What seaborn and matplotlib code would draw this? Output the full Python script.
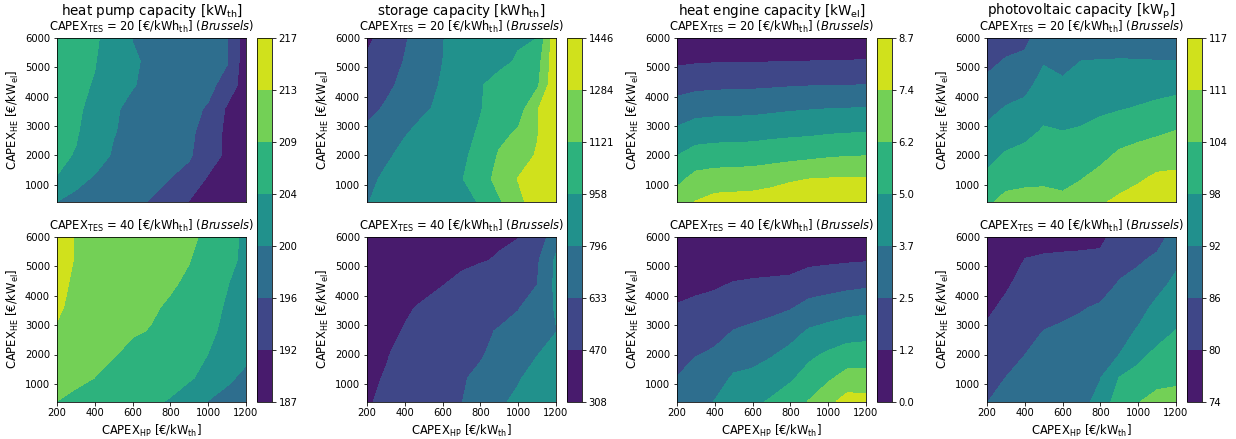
import numpy as np
import matplotlib
matplotlib.use("Agg")
import matplotlib.pyplot as plt
import seaborn as sns

# ---------------- data ----------------
capex_hp = [200, 300, 400, 500, 600, 700, 800, 900, 1000, 1100, 1200]
capex_he = [6000, 5200, 4400, 3600, 2800, 2000, 1200, 400]

hp_tes20 = [
    [206.5, 205.8, 204.9, 203.0, 200.1, 199.5, 199.0, 198.5, 198.0, 196.2, 189.0],
    [206.3, 205.5, 204.6, 202.5, 200.4, 199.8, 199.2, 198.6, 198.0, 196.1, 189.0],
    [206.0, 205.2, 204.2, 202.0, 200.3, 199.5, 198.8, 198.0, 196.8, 194.5, 189.0],
    [205.8, 205.0, 203.5, 200.5, 199.5, 198.8, 198.0, 196.8, 195.5, 191.0, 188.5],
    [205.5, 204.8, 202.5, 200.3, 199.3, 198.5, 197.6, 196.5, 194.5, 190.5, 188.3],
    [205.2, 204.2, 201.5, 199.8, 199.0, 198.2, 197.2, 196.2, 194.0, 190.5, 188.0],
    [204.3, 201.0, 199.8, 199.0, 198.2, 197.0, 195.8, 194.8, 191.0, 189.5, 187.8],
    [200.0, 199.2, 198.5, 197.8, 196.8, 195.5, 193.8, 191.2, 189.0, 188.0, 187.4],
]
hp_tes40 = [
    [216.5, 212.5, 212.0, 211.5, 211.0, 210.5, 210.0, 209.2, 208.2, 206.0, 203.5],
    [216.0, 212.5, 212.0, 211.4, 210.8, 210.2, 209.6, 208.8, 207.5, 205.5, 203.5],
    [215.2, 211.6, 211.2, 210.8, 210.3, 209.7, 209.0, 208.3, 206.8, 204.6, 202.5],
    [214.0, 211.2, 210.6, 210.0, 209.5, 209.0, 208.4, 207.4, 205.8, 204.0, 202.0],
    [212.3, 210.8, 210.0, 209.4, 209.0, 208.6, 207.6, 206.5, 205.0, 203.8, 201.8],
    [211.5, 210.3, 209.5, 208.9, 208.0, 207.2, 206.4, 205.5, 204.4, 203.0, 201.2],
    [210.5, 209.5, 208.7, 207.8, 207.0, 206.3, 205.5, 204.8, 203.4, 201.0, 199.0],
    [208.7, 207.8, 207.0, 206.2, 205.5, 204.9, 204.2, 202.5, 200.0, 198.5, 197.5],
]
st_tes20 = [
    [430, 540, 620, 700, 790, 860, 900, 925, 945, 957, 1420],
    [500, 570, 640, 720, 795, 850, 895, 930, 970, 1050, 1400],
    [540, 600, 670, 745, 810, 880, 950, 1000, 1040, 1090, 1420],
    [590, 650, 710, 780, 820, 880, 950, 1030, 1040, 1270, 1440],
    [660, 730, 785, 830, 870, 910, 975, 1070, 1140, 1270, 1440],
    [700, 775, 830, 870, 910, 940, 990, 1140, 1200, 1300, 1440],
    [760, 820, 860, 900, 930, 950, 1040, 1180, 1290, 1380, 1446],
    [790, 840, 870, 900, 930, 950, 960, 1100, 1230, 1380, 1446],
]
st_tes40 = [
    [308, 340, 360, 380, 400, 420, 440, 455, 465, 520, 740],
    [315, 335, 360, 390, 420, 445, 462, 480, 540, 610, 820],
    [330, 360, 390, 425, 465, 500, 530, 560, 590, 630, 830],
    [360, 400, 450, 490, 520, 550, 575, 600, 625, 700, 810],
    [390, 430, 480, 520, 560, 590, 615, 640, 680, 730, 790],
    [420, 460, 510, 550, 580, 605, 625, 660, 720, 790, 870],
    [440, 480, 530, 570, 600, 625, 650, 720, 780, 860, 930],
    [455, 500, 545, 580, 610, 630, 680, 770, 830, 860, 900],
]
he_tes20 = [
    [0.15, 0.20, 0.20, 0.20, 0.20, 0.20, 0.25, 0.25, 0.30, 0.30, 0.30],
    [1.05, 1.14, 1.18, 1.19, 1.20, 1.22, 1.24, 1.26, 1.29, 1.30, 1.31],
    [2.01, 2.17, 2.24, 2.26, 2.28, 2.33, 2.39, 2.43, 2.46, 2.47, 2.49],
    [2.98, 3.25, 3.33, 3.36, 3.39, 3.48, 3.58, 3.65, 3.71, 3.74, 3.77],
    [3.96, 4.34, 4.42, 4.44, 4.48, 4.59, 4.68, 4.73, 4.83, 4.90, 4.93],
    [4.95, 5.44, 5.56, 5.59, 5.63, 5.74, 5.82, 5.92, 6.06, 6.14, 6.18],
    [5.88, 6.58, 6.74, 6.79, 6.83, 6.99, 7.26, 7.44, 7.50, 7.51, 7.51],
    [6.85, 7.50, 7.89, 7.95, 8.00, 8.20, 8.45, 8.55, 8.62, 8.65, 8.66],
]
he_tes40 = [
    [0.05, 0.05, 0.10, 0.15, 0.20, 0.25, 0.30, 0.35, 0.40, 0.40, 0.30],
    [0.51, 0.52, 0.59, 0.69, 0.73, 0.73, 0.72, 0.97, 1.05, 1.12, 1.18],
    [0.91, 1.00, 1.10, 1.30, 1.39, 1.46, 1.56, 1.89, 2.02, 2.17, 2.27],
    [1.31, 1.47, 1.61, 1.90, 2.04, 2.19, 2.39, 2.84, 3.04, 3.23, 3.37],
    [1.71, 1.95, 2.13, 2.51, 2.70, 2.91, 3.27, 3.84, 4.10, 4.36, 4.44],
    [2.11, 2.42, 2.65, 3.16, 3.37, 3.63, 4.06, 4.70, 5.13, 5.50, 5.58],
    [2.51, 3.06, 3.20, 3.87, 3.97, 4.35, 4.77, 5.50, 6.00, 6.64, 6.60],
    [2.90, 3.35, 3.75, 4.45, 4.70, 5.10, 5.70, 6.26, 7.10, 7.90, 7.90],
]
pv_tes20 = [
    [81.3, 83.4, 84.4, 89.3, 87.7, 90.1, 89.8, 89.9, 89.4, 88.6, 88.2],
    [84.4, 86.5, 87.4, 91.7, 90.4, 92.2, 92.3, 92.4, 92.4, 92.3, 92.3],
    [87.4, 89.5, 90.5, 94.1, 93.1, 94.4, 94.8, 95.1, 95.5, 95.9, 96.4],
    [90.4, 92.5, 93.6, 96.5, 95.8, 96.55, 97.35, 97.9, 98.7, 99.7, 100.6],
    [93.4, 95.65, 96.8, 98.9, 98.4, 98.85, 100.1, 101.8, 102.8, 103.65, 104.7],
    [96.4, 98.9, 99.95, 101.3, 100.8, 101.6, 102.9, 105.4, 106.5, 107.7, 108.4],
    [99.5, 102.5, 103.2, 103.7, 103.2, 104.35, 106.4, 108.6, 109.9, 111.8, 112.0],
    [103.5, 106.2, 106.5, 106.0, 105.6, 107.1, 110.1, 111.7, 113.3, 115.8, 116.5],
]
pv_tes40 = [
    [74.0, 75.7, 78.4, 78.4, 78.45, 78.6, 78.4, 82.4, 82.9, 83.9, 88.2],
    [75.2, 77.4, 79.9, 80.3, 80.5, 80.6, 81.2, 84.3, 85.3, 87.1, 90.9],
    [77.0, 79.1, 81.4, 82.2, 82.6, 83.2, 83.9, 86.3, 87.8, 90.4, 93.4],
    [78.8, 80.8, 82.9, 84.1, 84.7, 85.6, 86.5, 88.2, 90.2, 93.4, 95.9],
    [80.6, 82.5, 84.4, 86.0, 86.7, 87.3, 88.3, 90.2, 92.6, 96.3, 98.4],
    [82.4, 84.3, 85.9, 87.9, 88.8, 89.3, 90.1, 92.1, 97.0, 99.4, 101.3],
    [84.2, 86.0, 87.4, 89.8, 90.9, 91.2, 92.0, 98.5, 100.0, 102.8, 103.5],
    [85.8, 87.7, 88.9, 90.6, 91.0, 91.3, 93.0, 102.5, 104.2, 106.1, 106.1],
]

titles = [r"heat pump capacity [kW$_{\rm th}$]",
          r"storage capacity [kWh$_{\rm th}$]",
          r"heat engine capacity [kW$_{\rm el}$]",
          r"photovoltaic capacity [kW$_{\rm p}$]"]
tes_values = [20, 40]
panels = [(hp_tes20, hp_tes40), (st_tes20, st_tes40),
          (he_tes20, he_tes40), (pv_tes20, pv_tes40)]
color_ranges = [(187.3, 217.3), (307.6, 1446.4), (0.0, 8.68), (73.6, 116.8)]
tick_formats = ["%.0f", "%.0f", "%.1f", "%.0f"]

# ---------------- style ----------------
sns.set_style("ticks")
plt.rcParams.update({
    "font.family": ["DejaVu Sans"],
    "font.size": 10,
    "axes.edgecolor": "black",
    "xtick.color": "black",
    "ytick.color": "black",
    "text.color": "black",
    "axes.labelcolor": "black",
    "xtick.major.size": 3.5,
    "ytick.major.size": 3.5,
    "axes.linewidth": 0.8,
})
cmap = sns.color_palette("viridis", as_cmap=True)

W, H = 1236, 439
fig = plt.figure(figsize=(W / 72, H / 72), dpi=72)

LABEL_FS = 11.5
SUB_FS = 11.5
TITLE_FS = 13.5
TICK_FS = 10


def fx(px):
    return px / W


def fy(py):
    return 1 - py / H


for c in range(4):
    x0 = 57 + 310 * c
    vmin, vmax = color_ranges[c]
    levels = np.linspace(vmin, vmax, 8)
    cs_first = None
    for r in range(2):
        top = 38 if r == 0 else 237
        ax = fig.add_axes([fx(x0), fy(top + 164.5), fx(189), 164.5 / H])
        cs = ax.contourf(capex_hp, capex_he, np.array(panels[c][r]),
                         levels=levels, cmap=cmap)
        if cs_first is None:
            cs_first = cs
        ax.set_xlim(200, 1200)
        ax.set_ylim(400, 6000)
        ax.set_yticks([1000, 2000, 3000, 4000, 5000, 6000])
        ax.set_ylabel(r"CAPEX$_{\rm HE}$ [€/kW$_{\rm el}$]", fontsize=LABEL_FS)
        if r == 1:
            ax.set_xticks([200, 400, 600, 800, 1000, 1200])
            ax.set_xlabel(r"CAPEX$_{\rm HP}$ [€/kW$_{\rm th}$]", fontsize=LABEL_FS)
        else:
            ax.set_xticks([])
        ax.tick_params(labelsize=TICK_FS)
        sub_base = 31 if r == 0 else 230
        fig.text(fx(x0 + 94.5), fy(sub_base),
                 r"CAPEX$_{\rm TES}$ = %d [€/kWh$_{\rm th}$] ($\it{Brussels}$)" % tes_values[r],
                 ha="center", va="baseline", fontsize=SUB_FS)
    fig.text(fx(x0 + 94.5), fy(14.5), titles[c], ha="center", va="baseline",
             fontsize=TITLE_FS)
    cax = fig.add_axes([fx(257 + 310 * c), fy(402), fx(14.5), 364.5 / H])
    cb = fig.colorbar(cs_first, cax=cax, ticks=levels)
    cb.ax.set_yticklabels([tick_formats[c] % v for v in levels])
    cb.ax.tick_params(labelsize=TICK_FS)
    cb.outline.set_edgecolor("black")

fig.savefig("out.png", dpi=72)
